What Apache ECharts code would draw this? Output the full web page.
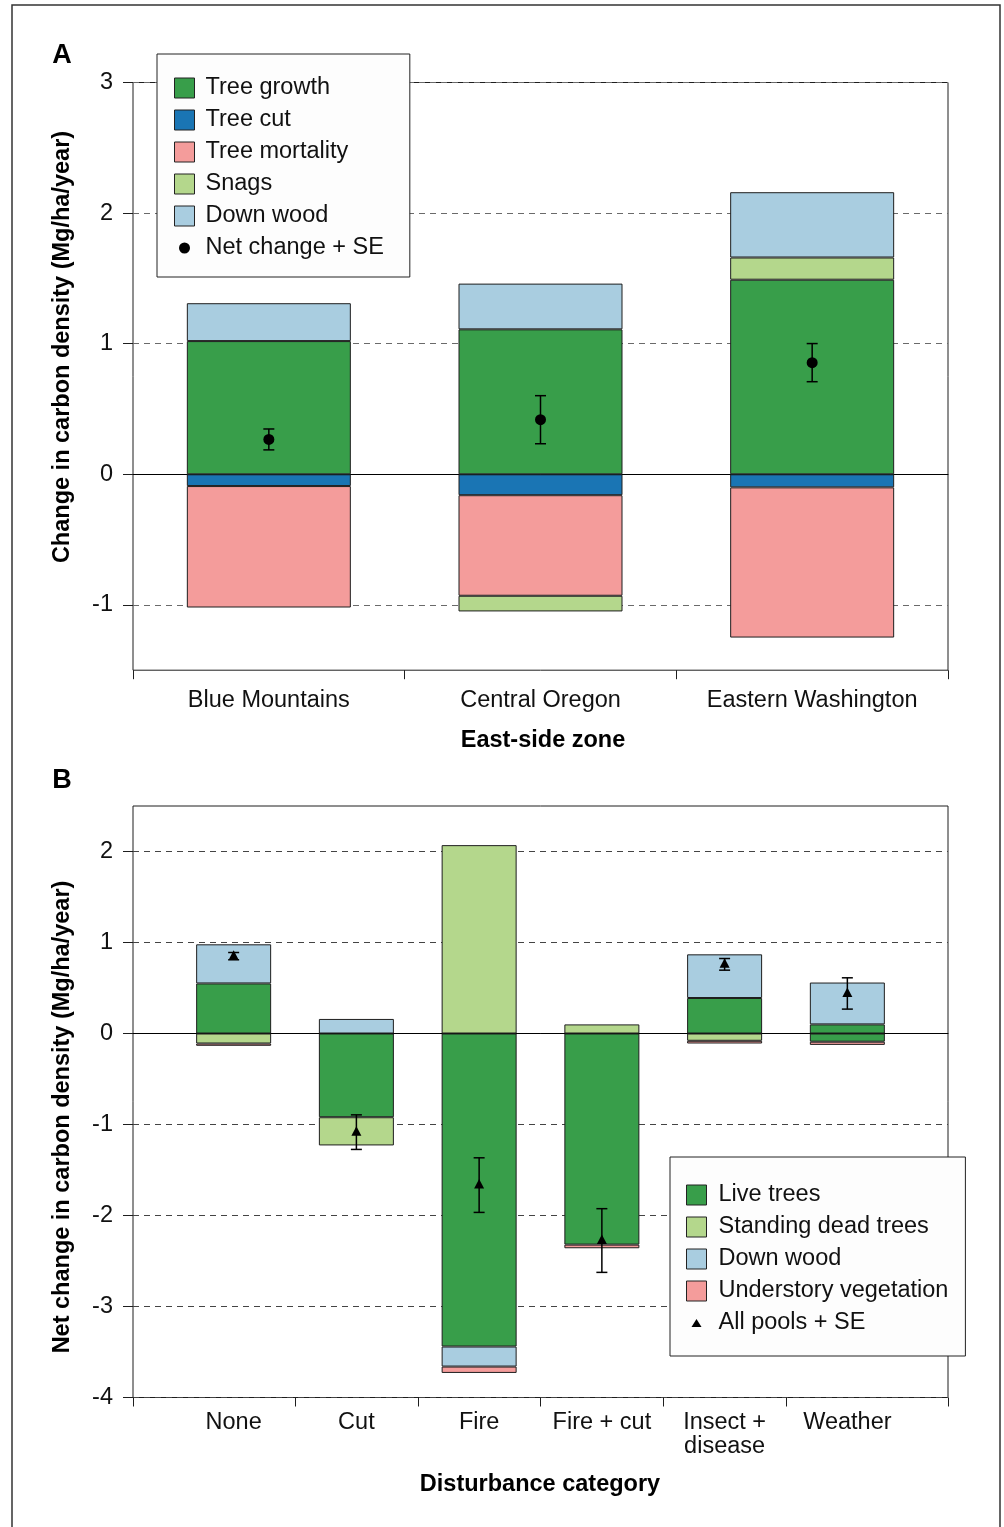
<!DOCTYPE html>
<html>
<head>
<meta charset="utf-8">
<script src="https://cdn.jsdelivr.net/npm/echarts@6/dist/echarts.min.js"></script>
<style>
  html, body { margin: 0; padding: 0; background: #fff; }
  #chart { width: 1004px; height: 1527px; }
</style>
</head>
<body>
<div id="chart"></div>
<script>
// ---- Panel A: east-side zones (Mg/ha/year) ----
const zones = ['Blue Mountains', 'Central Oregon', 'Eastern Washington'];
const treeGrowth = [1.02, 1.11, 1.49];
const treeCut = [-0.09, -0.16, -0.10];
const treeMortality = [-0.93, -0.77, -1.15];
const snags = [null, -0.12, 0.17];
const downWoodA = [0.29, 0.35, 0.50];
const netChange = [0.267, 0.418, 0.855];
const netChangeSe = [0.08, 0.184, 0.146];

// ---- Panel B: disturbance categories (Mg/ha/year) ----
const disturbances = ['None', 'Cut', 'Fire', 'Fire + cut', 'Insect +\ndisease', 'Weather'];
const liveTrees = [0.55, -0.92, -3.44, -2.32, 0.39, 0.10];
const standingDead = [-0.11, -0.31, 2.07, 0.10, -0.08, -0.09];
const downWoodB = [0.43, 0.16, -0.22, null, 0.48, 0.46];
const understory = [-0.025, null, -0.07, -0.04, -0.03, -0.035];
const allPools = [0.85, -1.084, -1.666, -2.275, 0.76, 0.44];
const allPoolsSe = [0.04, 0.19, 0.30, 0.35, 0.064, 0.172];

const yTicksA = [-1, 0, 1, 2, 3];
const yTicksB = [-4, -3, -2, -1, 0, 1, 2];

const C = {
  green: '#389e4a',
  blue: '#1a75b4',
  pink: '#f49c9b',
  lightGreen: '#b4d78c',
  lightBlue: '#a9cde0'
};
const FONT = '"Liberation Sans", Arial, Helvetica, sans-serif';
const FS = 23.5;
const barBorder = { borderColor: '#1e1e1e', borderWidth: 1 };

// x range of the disturbance frame (category positions are 1..6)
const xMinB = 0.18, xMaxB = 6.82;

// legend glyphs: small marker centred inside a 20x20 box
const dotIcon = 'path://M0,0M20,20M4.5,10A5.5,5.5,0,1,1,15.5,10A5.5,5.5,0,1,1,4.5,10Z';
const triIcon = 'path://M0,0M20,20M5,14L10,6L15,14Z';

function errorBars(marker) {
  return function (params, api) {
    const x = api.value(0), m = api.value(1), se = api.value(2);
    const top = api.coord([x, m + se]);
    const bot = api.coord([x, m - se]);
    const c = api.coord([x, m]);
    const cap = 5.5;
    const ls = { stroke: '#000', lineWidth: 1.5 };
    const kids = [
      { type: 'line', shape: { x1: top[0], y1: top[1], x2: bot[0], y2: bot[1] }, style: ls },
      { type: 'line', shape: { x1: top[0] - cap, y1: top[1], x2: top[0] + cap, y2: top[1] }, style: ls },
      { type: 'line', shape: { x1: bot[0] - cap, y1: bot[1], x2: bot[0] + cap, y2: bot[1] }, style: ls }
    ];
    if (marker === 'circle') {
      kids.push({ type: 'circle', shape: { cx: c[0], cy: c[1], r: 5.5 }, style: { fill: '#000' } });
    } else {
      kids.push({ type: 'polygon', shape: { points: [[c[0], c[1] - 6], [c[0] + 5, c[1] + 3.5], [c[0] - 5, c[1] + 3.5]] }, style: { fill: '#000' } });
    }
    return { type: 'group', children: kids };
  };
}

const gridA = { left: 133, top: 82.5, width: 815, height: 587.7 };
const gridBFrame = { left: 133, top: 806, width: 815, height: 591.5 };
const pxPerUnitB = 815 / (xMaxB - xMinB);
const gridBData = {
  left: 133 + (0.5 - xMinB) * pxPerUnitB,
  top: 806,
  width: 6 * pxPerUnitB,
  height: 591.5
};

const frameGrid = (g) => Object.assign({
  show: true, borderColor: '#1e1e1e', borderWidth: 1,
  backgroundColor: 'transparent', containLabel: false, outerBoundsMode: 'none'
}, g);

const legendCommon = {
  orient: 'vertical',
  selectedMode: false,
  backgroundColor: '#fdfdfd',
  borderColor: '#222',
  borderWidth: 1,
  borderRadius: 0,
  itemWidth: 20,
  itemHeight: 20,
  itemGap: 8,
  itemStyle: { borderColor: '#222', borderWidth: 1 }
};

const option = {
  animation: false,
  backgroundColor: '#fff',
  textStyle: { fontFamily: FONT },
  grid: [
    frameGrid(gridA),
    frameGrid(gridBFrame),
    Object.assign({ show: false, containLabel: false, outerBoundsMode: 'none' }, gridBData)
  ],
  xAxis: [
    { // A: zones
      gridIndex: 0, type: 'category', data: zones, position: 'bottom',
      axisLine: { show: false, onZero: false },
      axisTick: { show: true, length: 9, lineStyle: { color: '#1e1e1e' } },
      axisLabel: { fontSize: FS, color: '#111', margin: 18, interval: 0, fontFamily: FONT },
      splitLine: { show: false }
    },
    { // A: zero line
      gridIndex: 0, type: 'category', data: zones, position: 'top',
      axisLine: { show: true, onZero: true, lineStyle: { color: '#000', width: 1 } },
      axisTick: { show: false }, axisLabel: { show: false }, splitLine: { show: false }
    },
    { // B: frame ticks between categories
      gridIndex: 1, type: 'value', min: xMinB, max: xMaxB, position: 'bottom',
      axisLine: { show: false, onZero: false },
      axisTick: { show: true, length: 9, lineStyle: { color: '#1e1e1e' },
        customValues: [xMinB, 1.5, 2.5, 3.5, 4.5, 5.5, xMaxB] },
      axisLabel: { show: false },
      splitLine: { show: false }
    },
    { // B: zero line
      gridIndex: 1, type: 'value', min: xMinB, max: xMaxB, position: 'top',
      axisLine: { show: true, onZero: true, lineStyle: { color: '#000', width: 1 } },
      axisTick: { show: false }, axisLabel: { show: false }, splitLine: { show: false }
    },
    { // B: disturbance categories
      gridIndex: 2, type: 'category', data: disturbances, position: 'bottom',
      axisLine: { show: false, onZero: false },
      axisTick: { show: false },
      axisLabel: { fontSize: FS, color: '#111', margin: 13, lineHeight: 24, interval: 0, fontFamily: FONT },
      splitLine: { show: false }
    }
  ],
  yAxis: [
    {
      gridIndex: 0, type: 'value', min: -1.5, max: 3, splitNumber: 5,
      axisLine: { show: false, onZero: false },
      axisTick: { show: true, length: 10, lineStyle: { color: '#1e1e1e' }, customValues: yTicksA },
      axisLabel: { fontSize: FS, color: '#111', margin: 20, customValues: yTicksA, fontFamily: FONT },
      splitLine: { show: true, lineStyle: { type: [6, 5], color: '#6a6a6a', width: 1 } }
    },
    {
      gridIndex: 1, type: 'value', min: -4, max: 2.5, interval: 1,
      axisLine: { show: false, onZero: false },
      axisTick: { show: true, length: 10, lineStyle: { color: '#1e1e1e' }, customValues: yTicksB },
      axisLabel: { fontSize: FS, color: '#111', margin: 20, customValues: yTicksB, fontFamily: FONT },
      splitLine: { show: true, lineStyle: { type: [6, 5], color: '#444', width: 1 } }
    },
    {
      gridIndex: 2, type: 'value', min: -4, max: 2.5, interval: 1, show: false,
      axisLine: { show: false, onZero: false }, splitLine: { show: false }
    }
  ],
  legend: [
    Object.assign({}, legendCommon, {
      left: 157, top: 54,
      padding: [22, 26, 17, 17],
      textStyle: { fontFamily: FONT, fontSize: FS, color: '#111', padding: [0, 0, 0, 6] },
      data: [
        { name: 'Tree growth', icon: 'rect' }, { name: 'Tree cut', icon: 'rect' },
        { name: 'Tree mortality', icon: 'rect' }, { name: 'Snags', icon: 'rect' },
        { name: 'Down wood', icon: 'rect' },
        { name: 'Net change + SE', icon: dotIcon, itemStyle: { borderWidth: 0 } }
      ]
    }),
    Object.assign({}, legendCommon, {
      left: 670, top: 1157,
      padding: [26, 17, 21, 16],
      textStyle: { fontFamily: FONT, fontSize: FS, color: '#111', padding: [0, 0, 0, 7] },
      data: [
        { name: 'Live trees', icon: 'rect' }, { name: 'Standing dead trees', icon: 'rect' },
        { name: 'Down wood', icon: 'rect' }, { name: 'Understory vegetation', icon: 'rect' },
        { name: 'All pools + SE', icon: triIcon, itemStyle: { borderWidth: 0 } }
      ]
    })
  ],
  graphic: [
    { type: 'rect', silent: true, z: -10, shape: { x: 12, y: 5, width: 988, height: 1540 },
      style: { fill: 'none', stroke: '#333', lineWidth: 1.5 } },
    { type: 'text', silent: true, x: 62, y: 56,
      style: { text: 'A', font: 'bold 27px ' + FONT, fill: '#000', textAlign: 'center', textVerticalAlign: 'middle' } },
    { type: 'text', silent: true, x: 62, y: 781,
      style: { text: 'B', font: 'bold 27px ' + FONT, fill: '#000', textAlign: 'center', textVerticalAlign: 'middle' } },
    { type: 'text', silent: true, x: 63, y: 347, rotation: Math.PI / 2,
      style: { text: 'Change in carbon density (Mg/ha/year)', font: 'bold ' + FS + 'px ' + FONT, fill: '#000', textAlign: 'center', textVerticalAlign: 'middle' } },
    { type: 'text', silent: true, x: 63, y: 1117, rotation: Math.PI / 2,
      style: { text: 'Net change in carbon density (Mg/ha/year)', font: 'bold ' + FS + 'px ' + FONT, fill: '#000', textAlign: 'center', textVerticalAlign: 'middle' } },
    { type: 'text', silent: true, x: 543, y: 741,
      style: { text: 'East-side zone', font: 'bold ' + FS + 'px ' + FONT, fill: '#000', textAlign: 'center', textVerticalAlign: 'middle' } },
    { type: 'text', silent: true, x: 540, y: 1485,
      style: { text: 'Disturbance category', font: 'bold ' + FS + 'px ' + FONT, fill: '#000', textAlign: 'center', textVerticalAlign: 'middle' } }
  ],
  series: [
    // Panel A stacked components
    { name: 'Tree growth', type: 'bar', xAxisIndex: 0, yAxisIndex: 0, stack: 'a', stackStrategy: 'samesign',
      barWidth: 164, data: treeGrowth, itemStyle: Object.assign({ color: C.green }, barBorder) },
    { name: 'Tree cut', type: 'bar', xAxisIndex: 0, yAxisIndex: 0, stack: 'a', stackStrategy: 'samesign',
      barWidth: 164, data: treeCut, itemStyle: Object.assign({ color: C.blue }, barBorder) },
    { name: 'Tree mortality', type: 'bar', xAxisIndex: 0, yAxisIndex: 0, stack: 'a', stackStrategy: 'samesign',
      barWidth: 164, data: treeMortality, itemStyle: Object.assign({ color: C.pink }, barBorder) },
    { name: 'Snags', type: 'bar', xAxisIndex: 0, yAxisIndex: 0, stack: 'a', stackStrategy: 'samesign',
      barWidth: 164, data: snags, itemStyle: Object.assign({ color: C.lightGreen }, barBorder) },
    { name: 'Down wood', type: 'bar', xAxisIndex: 0, yAxisIndex: 0, stack: 'a', stackStrategy: 'samesign',
      barWidth: 164, data: downWoodA, itemStyle: Object.assign({ color: C.lightBlue }, barBorder) },
    { name: 'Net change + SE', type: 'custom', xAxisIndex: 0, yAxisIndex: 0, z: 5,
      itemStyle: { color: '#000' },
      renderItem: errorBars('circle'),
      encode: { x: 0, y: 1 },
      data: zones.map((z, i) => [i, netChange[i], netChangeSe[i]]) },

    // Panel B stacked pools
    { name: 'Live trees', type: 'bar', xAxisIndex: 4, yAxisIndex: 2, stack: 'b', stackStrategy: 'samesign',
      barWidth: 75, data: liveTrees, itemStyle: Object.assign({ color: C.green }, barBorder) },
    { name: 'Standing dead trees', type: 'bar', xAxisIndex: 4, yAxisIndex: 2, stack: 'b', stackStrategy: 'samesign',
      barWidth: 75,
      // the small below-zero standing-dead piece under Weather is shaded in the live-tree green
      data: standingDead.map((v, i) => disturbances[i] === 'Weather' ? { value: v, itemStyle: { color: C.green } } : v),
      itemStyle: Object.assign({ color: C.lightGreen }, barBorder) },
    { name: 'Down wood', type: 'bar', xAxisIndex: 4, yAxisIndex: 2, stack: 'b', stackStrategy: 'samesign',
      barWidth: 75, data: downWoodB, itemStyle: Object.assign({ color: C.lightBlue }, barBorder) },
    { name: 'Understory vegetation', type: 'bar', xAxisIndex: 4, yAxisIndex: 2, stack: 'b', stackStrategy: 'samesign',
      barWidth: 75, data: understory, itemStyle: Object.assign({ color: C.pink }, barBorder) },
    { name: 'All pools + SE', type: 'custom', xAxisIndex: 4, yAxisIndex: 2, z: 5,
      itemStyle: { color: '#000' },
      renderItem: errorBars('triangle'),
      encode: { x: 0, y: 1 },
      data: disturbances.map((d, i) => [i, allPools[i], allPoolsSe[i]]) }
  ]
};

const chart = echarts.init(document.getElementById('chart'), null, { renderer: 'canvas' });
chart.setOption(option);
</script>
</body>
</html>
